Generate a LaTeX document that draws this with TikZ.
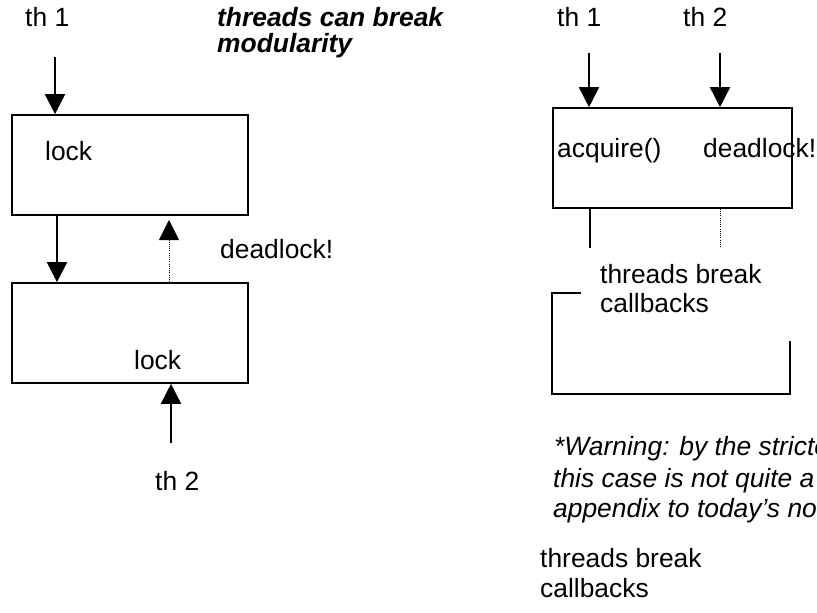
\documentclass[tikz,border=0pt]{standalone}
\usepackage{fontspec}
\setmainfont{Liberation Sans}
\usetikzlibrary{arrows.meta}
\begin{document}
\begin{tikzpicture}[x=1pt,y=-1pt,
  txt/.style={anchor=base west,inner sep=0pt,font=\fontsize{26.4}{30}\selectfont},
  ittxt/.style={txt,font=\fontsize{26.4}{30}\selectfont\itshape},
  bitxt/.style={txt,font=\fontsize{26.4}{30}\selectfont\bfseries\itshape},
  box/.style={draw,line width=1.6pt,inner sep=0pt},
  arr/.style={line width=1.6pt,-{Triangle[length=20pt,width=20pt]}},
  dotline/.style={line width=1pt,dash pattern=on 1pt off 1.2pt},
  dotarr/.style={dotline,-{Triangle[length=20pt,width=20pt]}},
  cover/.style={fill=white,draw=none,inner sep=0pt}]
\useasboundingbox (0,0) rectangle (817,613);
\clip (0,0) rectangle (817,613);

% ---------- left diagram ----------
\node[box,minimum width=236pt,minimum height=100pt] (b1) at (130,165) {};
\node[box,minimum width=236pt,minimum height=100pt] (b2) at (130,333) {};

\node[txt] (th1l) at (25,27) {th 1};
\node[bitxt] (title1) at (217,26) {threads can break};
\node[bitxt] (title2) at (217,52) {modularity};
\node[txt] (lock1) at (45,160) {lock};
\node[txt] (dl1) at (220,258) {deadlock!};
\node[txt] (lock2) at (134,369) {lock};
\node[txt] (th2l) at (155,490) {th 2};

\coordinate (a1) at (55,57);
\coordinate (a2) at (57,0);
\coordinate (a3) at (169,220);
\coordinate (a4) at (171,443);

\draw[arr] (a1) -- (a1 |- b1.north);
\draw[arr] (a2 |- b1.south) -- (a2 |- b2.north);
\draw[dotarr] (a3 |- b2.north) -- (a3);
\draw[arr] (a4) -- (a4 |- b2.south);

% ---------- right diagram ----------
\node[box,minimum width=239pt,minimum height=100pt] (rb) at (672.5,158) {};
\node[box,minimum width=238pt,minimum height=101pt] (lb) at (671,343.5) {};

\node[txt] (th1r) at (557,27) {th 1};
\node[txt] (th2r) at (683,27) {th 2};
\node[txt] (acq) at (557,157) {acquire()};
\node[txt] (dl2) at (703,157) {deadlock!};

\coordinate (r1) at (589,53);
\coordinate (r2) at (720,53);
\coordinate (r3) at (590,0);

\draw[arr] (r1) -- (r1 |- rb.north);
\draw[arr] (r2) -- (r2 |- rb.north);
\draw[line width=1.6pt] (r3 |- rb.south) -- (r3 |- lb.north);
\draw[dotline] (r2 |- rb.south) -- (r2 |- lb.north);

\coordinate (wc1) at (581,248);
\coordinate (wc2) at (806,341);
\fill[white] (wc1) rectangle (wc2);
\node[txt] (tb1) at (600,283) {threads break};
\node[txt] (tb2) at (600,312) {callbacks};

\node[ittxt] (w1) at (554,455) {*Warning: by the strictest};
\node[ittxt] (w2) at (553,487) {this case is not quite a deadlock};
\node[ittxt] (w3) at (553,517) {appendix to today’s notes};

\node[txt] (tb3) at (540,567) {threads break};
\node[txt] (tb4) at (540,597) {callbacks};
\end{tikzpicture}
\end{document}
